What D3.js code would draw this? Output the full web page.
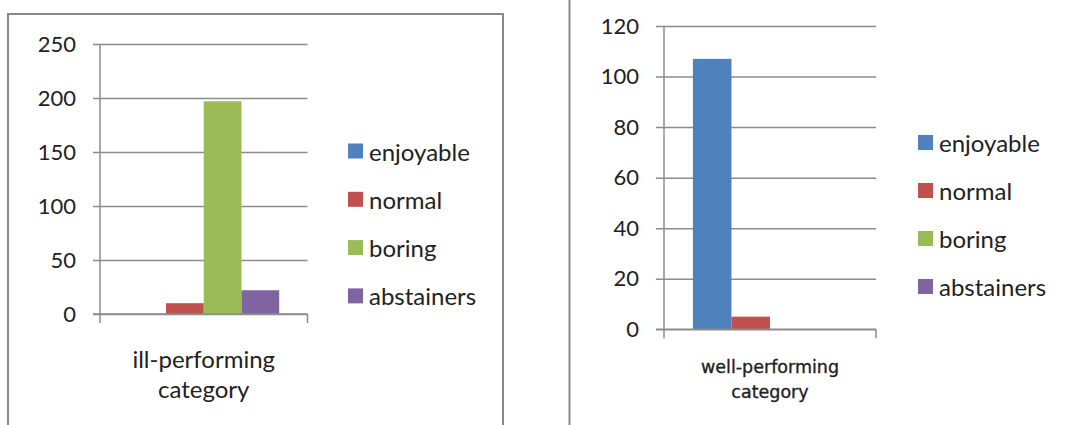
<!DOCTYPE html>
<html><head><meta charset="utf-8">
<script src="https://cdn.jsdelivr.net/npm/d3@7"></script>
<style>
body{margin:0;background:#fff;}
svg{display:block;}
text{fill:#222;}
</style></head>
<body>
<svg id="c" width="1067" height="425"></svg>
<script>
const series = ["enjoyable","normal","boring","abstainers"];
const colors = ["#4F81BD","#C0504D","#9BBB59","#8064A2"];
const leftCategory = ["ill-performing","category"];
const leftValues = [0, 10, 197, 22];
const leftTicks = [0, 50, 100, 150, 200, 250];
const rightCategory = ["well-performing","category"];
const rightValues = [107, 5, 0, 0];
const rightTicks = [0, 20, 40, 60, 80, 100, 120];

const svg = d3.select("#c");

// panel frames
svg.append("rect").attr("x",8).attr("y",14).attr("width",495).attr("height",440)
  .attr("fill","none").attr("stroke","#8a8a8a").attr("stroke-width",2);
svg.append("line").attr("x1",569.5).attr("x2",569.5).attr("y1",0).attr("y2",425)
  .attr("stroke","#8a8a8a").attr("stroke-width",2);

function panel(cfg){
  const g = svg.append("g");
  const y = d3.scaleLinear().domain([0, d3.max(cfg.ticks)]).range([cfg.y0, cfg.y1]);
  const x = d3.scaleBand().domain([cfg.category.join(" ")]).range([cfg.xl, cfg.xr]);
  const xs = d3.scaleBand().domain(series).range([0, x.bandwidth()]).paddingInner(0).paddingOuter(0.75);
  const gridLen = cfg.xr - cfg.gl;
  const ax = g.append("g").attr("transform",`translate(${cfg.xr},0)`)
    .call(d3.axisLeft(y).tickValues(cfg.ticks).tickSize(gridLen).tickPadding(cfg.pad).tickFormat(d3.format("d")));
  ax.select(".domain").remove();
  ax.selectAll(".tick line").attr("stroke","#8c8c8c").attr("stroke-width",1.5);
  ax.selectAll(".tick text").attr("font-size",cfg.tickFont).attr("font-family","Lato, sans-serif").attr("fill","#222");
  // bars
  g.selectAll("rect.bar").data(series.map((s,i)=>({s, v:cfg.values[i], c:colors[i]})))
    .join("rect").attr("class","bar")
    .attr("x",d=>x(cfg.category.join(" "))+xs(d.s))
    .attr("width",xs.bandwidth())
    .attr("y",d=>y(d.v)).attr("height",d=>y(0)-y(d.v))
    .attr("fill",d=>d.c);
  // axes
  g.append("line").attr("x1",cfg.xl).attr("x2",cfg.xl).attr("y1",cfg.y1).attr("y2",cfg.y0+9)
    .attr("stroke","#8c8c8c").attr("stroke-width",1.5);
  g.append("line").attr("x1",cfg.gl).attr("x2",cfg.xr).attr("y1",cfg.y0).attr("y2",cfg.y0)
    .attr("stroke","#8c8c8c").attr("stroke-width",1.5);
  g.append("line").attr("x1",cfg.xr).attr("x2",cfg.xr).attr("y1",cfg.y0).attr("y2",cfg.y0+9)
    .attr("stroke","#8c8c8c").attr("stroke-width",1.5);
  // category label
  const cx = x(cfg.category.join(" ")) + x.bandwidth()/2;
  g.selectAll("text.cat").data(cfg.category).join("text").attr("class","cat")
    .attr("x",cx).attr("y",(d,i)=>cfg.catY + i*cfg.catGap)
    .attr("text-anchor","middle").attr("dominant-baseline","central")
    .style("font-size",cfg.catFont+"px").style("font-family",cfg.catFamily)
    .style("font-weight",cfg.catWeight)
    .attr("stroke",cfg.catStroke ? "#222" : null).attr("stroke-width",cfg.catStroke || null)
    .text(d=>d);
  // legend
  const lg = g.append("g");
  series.forEach((s,i)=>{
    const yy = cfg.legY + i*cfg.legGap;
    lg.append("rect").attr("x",cfg.legX).attr("y",yy-7.5).attr("width",15).attr("height",15).attr("fill",colors[i]);
    lg.append("text").attr("x",cfg.legX+21).attr("y",yy).attr("dominant-baseline","central")
      .attr("font-family","Lato, sans-serif").attr("font-size",cfg.legFont).text(s);
  });
}

panel({values:leftValues, ticks:leftTicks, category:leftCategory,
  y0:314, y1:44, xl:100, xr:307.5, gl:93, pad:17, tickFont:22,
  catY:358, catGap:30, catFont:24, catFamily:"Lato, sans-serif", catWeight:"normal",
  legX:348, legY:151, legGap:48.3, legFont:24});

panel({values:rightValues, ticks:rightTicks, category:rightCategory,
  y0:329.3, y1:26, xl:664, xr:876, gl:656, pad:17, tickFont:22,
  catY:366.5, catGap:25, catFont:17.5, catFamily:"'DejaVu Sans', sans-serif", catWeight:"normal", catStroke:0.35,
  legX:918, legY:142.5, legGap:48, legFont:24});
</script>
</body></html>
